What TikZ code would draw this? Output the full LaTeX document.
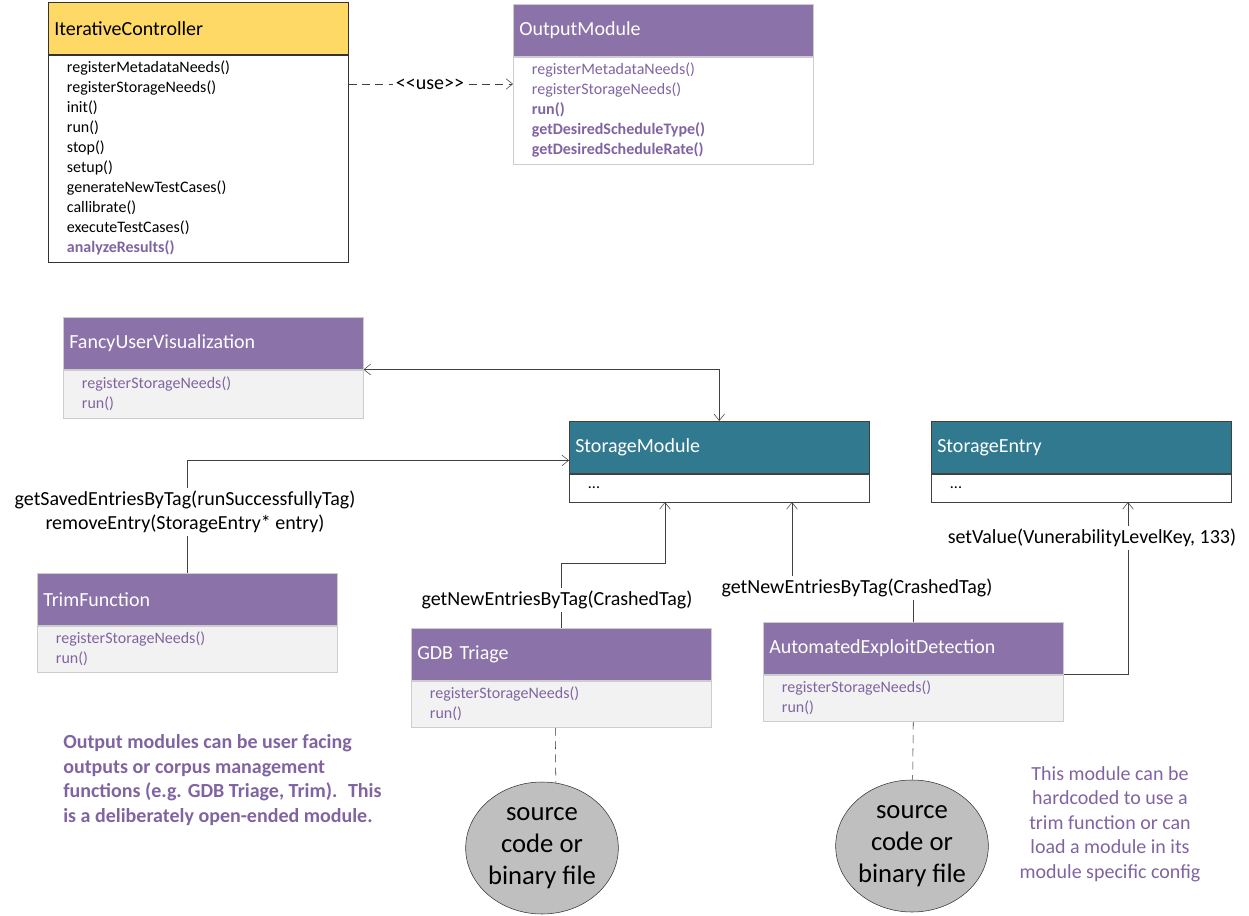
\documentclass[tikz,border=0pt]{standalone}
\usepackage{fontspec}
\setmainfont{Carlito}
\usetikzlibrary{arrows.meta,positioning,calc,backgrounds,shapes.geometric}
\definecolor{CtrlYellow}{RGB}{255,217,102}
\definecolor{ModPurple}{RGB}{139,114,168}
\definecolor{MethPurple}{RGB}{128,100,162}
\definecolor{StoreTeal}{RGB}{49,121,143}
\definecolor{BodyGray}{RGB}{242,242,242}
\definecolor{FileGray}{RGB}{191,191,191}
\definecolor{EdgeGray}{RGB}{205,205,205}
\newcommand\headfont{\fontsize{15}{17}\selectfont}
\newcommand\methfont{\fontsize{12}{15}\selectfont}
\newcommand\callfont{\fontsize{15}{18}\selectfont}
\newcommand\notefont{\fontsize{15}{18.4}\selectfont}
\newcommand\srcfont{\fontsize{20}{24}\selectfont}
\tikzset{
  head base/.style={
    draw,
    anchor=north west,
    minimum height=39pt,
    text width=216pt,
    inner xsep=4.5pt,
    align=left,
    font=\headfont,
  },
  ctrl head/.style={head base, fill=CtrlYellow, draw=black!80},
  mod head/.style={head base, fill=ModPurple, draw=EdgeGray, text=white},
  store head/.style={head base, fill=StoreTeal, draw=black!75, text=white},
  body base/.style={
    draw,
    anchor=north,
    text width=197pt,
    inner xsep=14pt,
    inner ysep=2pt,
    align=left,
    font=\methfont,
  },
  ctrl body/.style={body base, fill=white, draw=black!80},
  mod body/.style={body base, fill=BodyGray, draw=EdgeGray, text=MethPurple},
  store body/.style={body base, fill=white, draw=black!75},
  call label/.style={fill=white, inner sep=2pt, font=\callfont, align=center},
  conn/.style={draw=black!75, -{Straight Barb[length=5pt,width=8pt]}},
  src node/.style={
    ellipse,
    draw=black!80,
    fill=FileGray,
    minimum width=96pt,
    minimum height=99pt,
    inner sep=0pt,
    align=center,
    font=\srcfont,
  },
  note/.style={inner sep=0pt, text=MethPurple, font=\notefont},
}

\begin{document}
\begin{tikzpicture}[x=0.75pt,y=-0.75pt]
\useasboundingbox (0,0) rectangle (1249,916);

% Controller and module interface.
\node[ctrl head] (ic-h) at (48,2) {IterativeController};
\node[ctrl body,minimum height=155.25pt] (ic-b) at (ic-h.south) {registerMetadataNeeds()\\registerStorageNeeds()\\init()\\run()\\stop()\\setup()\\generateNewTestCases()\\callibrate()\\executeTestCases()\\\textcolor{MethPurple}{\bfseries analyzeResults()}};

\node[mod head] (om-h) at (513,4) {OutputModule};
\node[mod body,fill=white,minimum height=80.25pt] (om-b) at (om-h.south) {registerMetadataNeeds()\\registerStorageNeeds()\\\textbf{run()}\\\textbf{getDesiredScheduleType()}\\\textbf{getDesiredScheduleRate()}};

\node[call label] (use) at (430,84) {{<}{<}use{>}{>}};

% Concrete modules.
\node[mod head] (fuv-h) at (63,317) {FancyUserVisualization};
\node[mod body,minimum height=36pt] (fuv-b) at (fuv-h.south) {registerStorageNeeds()\\run()};

\node[mod head] (trim-h) at (37,573) {TrimFunction};
\node[mod body,minimum height=34.5pt] (trim-b) at (trim-h.south) {registerStorageNeeds()\\run()};

\node[mod head] (gdb-h) at (411,628) {GDB Triage};
\node[mod body,minimum height=35pt] (gdb-b) at (gdb-h.south) {registerStorageNeeds()\\run()};

\node[mod head] (aed-h) at (763,622) {AutomatedExploitDetection};
\node[mod body,minimum height=35pt] (aed-b) at (aed-h.south) {registerStorageNeeds()\\run()};

% Storage.
\node[store head] (sm-h) at (569,421) {StorageModule};
\node[store body,minimum height=21pt] (sm-b) at (sm-h.south) {...};

\node[store head] (se-h) at (931,421) {StorageEntry};
\node[store body,minimum height=21pt] (se-b) at (se-h.south) {...};

% Call labels.
\node[call label] (trim-call) at (185,512) {getSavedEntriesByTag(runSuccessfullyTag)\\removeEntry(StorageEntry* entry)};
\node[call label] (gdb-call) at (557,600) {getNewEntriesByTag(CrashedTag)};
\node[call label] (aed-call) at (857,588) {getNewEntriesByTag(CrashedTag)};
\node[call label] (set-call) at (1092,538) {setValue(VunerabilityLevelKey, 133)};

% Inputs.
\node[src node] (src1) at (542,848) {source\\code or\\binary file};
\node[src node] (src2) at (912,846) {source\\code or\\binary file};

\node[note,anchor=west,align=left,font=\notefont\bfseries] (left-note) at (63,780) {Output modules can be user facing\\outputs or corpus management\\functions (e.g. GDB Triage, Trim).~ This\\is a deliberately open-ended module.};
\node[note,align=center] (right-note) at (1110,824) {This module can be\\hardcoded to use a\\trim function or can\\load a module in its\\module specific config};

\begin{scope}[on background layer]
  \draw[conn,dash pattern=on 6pt off 4pt] (ic-b.east |- use) -- (om-b.west |- use);
  \draw[conn,{Straight Barb[length=5pt,width=8pt]}-{Straight Barb[length=5pt,width=8pt]}] (fuv-h.south east) -| (sm-h.north);
  \draw[conn] (trim-h.north) |- (sm-h.185);
  \draw[conn] (gdb-h.north) |- ($(sm-b.south west)+(96,61)$) -- ($(sm-b.south west)+(96,0)$);
  \draw[conn] (aed-h.north) |- ($(sm-b.south west)+(223,87)$) -- ($(sm-b.south west)+(223,0)$);
  \draw[conn] (aed-h.south east) -| ($(se-b.south west)+(197,0)$);
  \draw[black!80,dash pattern=on 6pt off 4pt] ($(gdb-b.south)+(-6,0)$) -- (src1.78);
  \draw[black!80,dash pattern=on 6pt off 4pt] (aed-b.south) -- (src2);
\end{scope}

\end{tikzpicture}
\end{document}
